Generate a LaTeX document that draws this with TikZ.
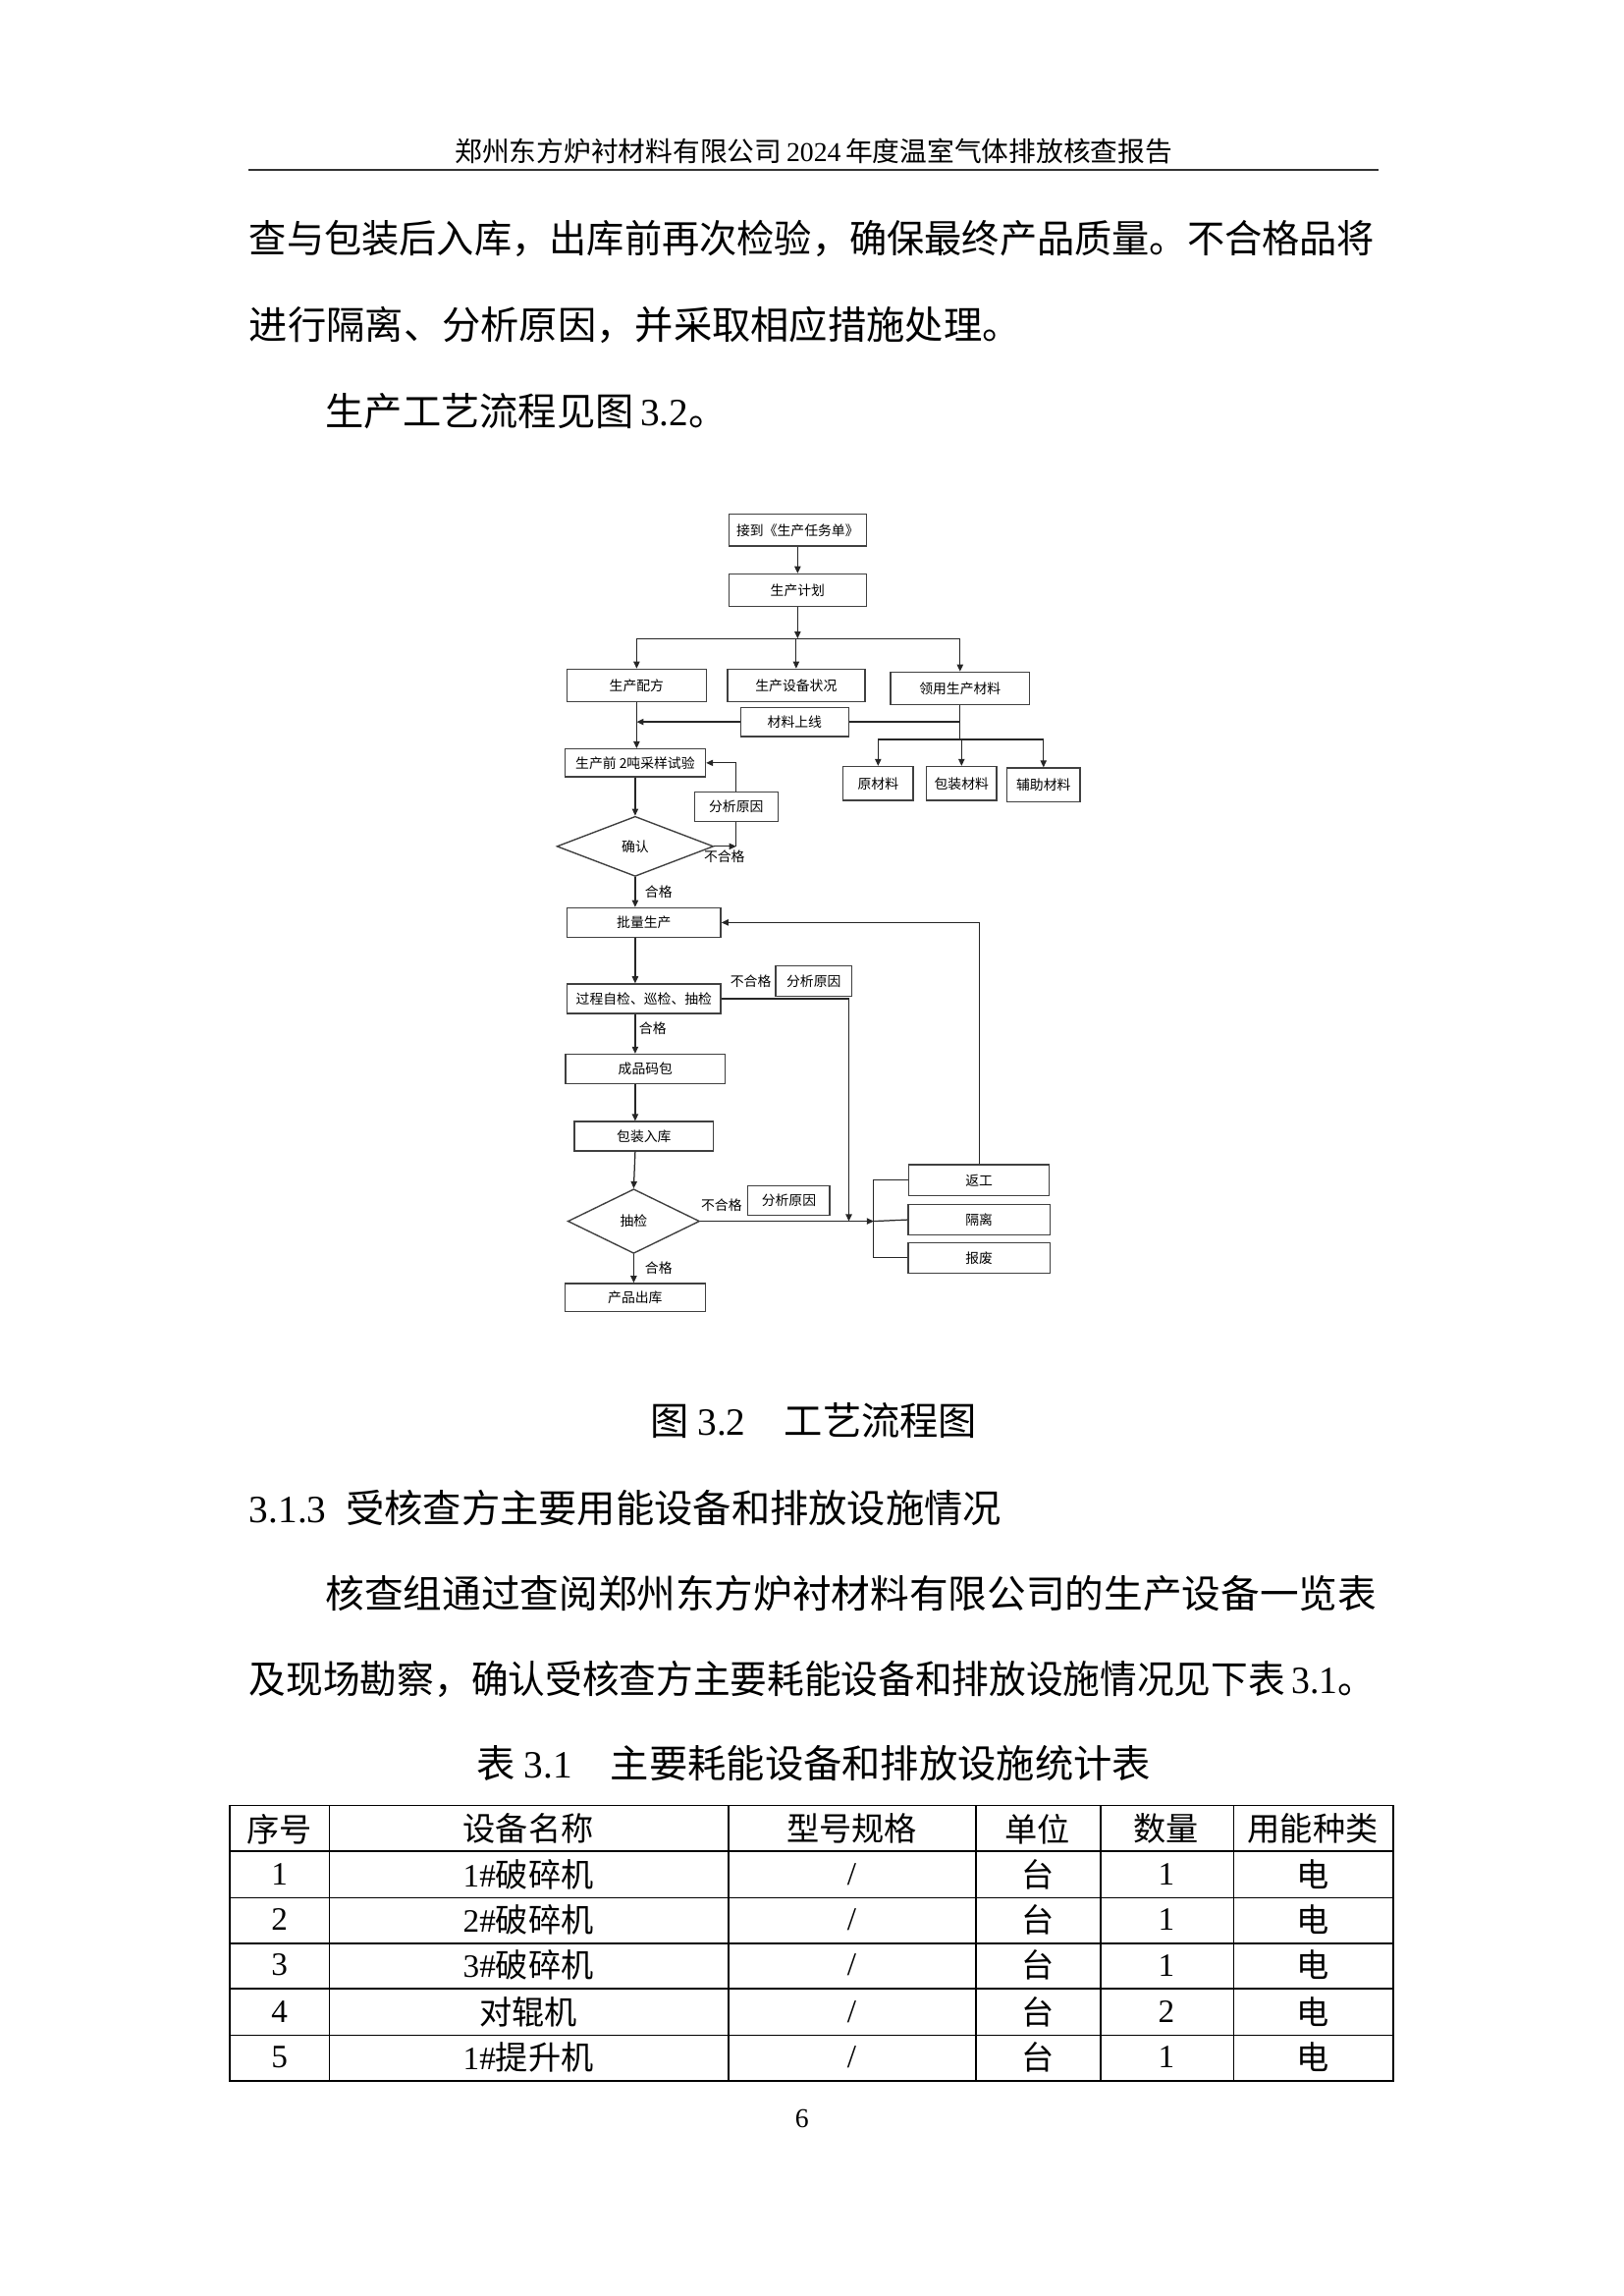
\documentclass[tikz,border=0pt]{standalone}
\usepackage{fontspec}
\usepackage{graphicx}
\setmainfont{Noto Sans CJK SC}
\newfontfamily\tnr{Liberation Serif}
\usetikzlibrary{arrows.meta,shapes.geometric,calc}
\newcommand\fcf{\fontsize{5pt}{6pt}\selectfont}
\newcommand\bodyf{\fontsize{14.2pt}{17pt}\selectfont}
\newcommand\tabf{\fontsize{12pt}{14pt}\selectfont}
\newcommand\headf{\fontsize{10pt}{12pt}\selectfont}
\begin{document}
\begin{tikzpicture}[x=0.18936mm,y=-0.18943mm,
  fbox/.style={draw=black!75, line width=0.5pt, inner sep=0pt, font=\fcf, fill=white, text=black},
  bx/.style 2 args={fbox, minimum width=#1*0.18936mm, minimum height=#2*0.18943mm},
  dia/.style 2 args={diamond, draw=black!75, line width=0.5pt, inner sep=0pt, font=\fcf, fill=white,
     minimum width=#1*0.18936mm, minimum height=#2*0.18943mm},
  arr/.style={-{Triangle[length=0.9mm,width=0.8mm]}, line width=0.45pt, draw=black!85},
  ln/.style={line width=0.45pt, draw=black!85},
  lbl/.style={inner sep=0pt, font=\fcf},
  tx/.style={inner sep=0pt, anchor=west, font=\bodyf},
  txc/.style={inner sep=0pt, font=\bodyf},
  tc/.style={inner sep=0pt, font=\tabf},
  tl/.style={line width=0.6pt, draw=black}
]
\useasboundingbox[fill=white] (0,0) rectangle (1109,1568);

% ---------- header ----------
\node[inner sep=0pt, font=\headf] (hd) at (556,103) {\resizebox{92.8mm}{\height}{郑州东方炉衬材料有限公司\,{\tnr 2024}\,年度温室气体排放核查报告}};
\coordinate (hl1) at (170,116);
\coordinate (hl2) at (942,116);
\draw[line width=0.7pt, draw=black!80] (hl1) -- (hl2);

% ---------- body text ----------
\node[tx] (p1) at (170,163) {\resizebox{145.6mm}{\height}{查与包装后入库，出库前再次检验，确保最终产品质量。不合格品将}};
\node[tx] (p2) at (170,222) {进行隔离、分析原因，并采取相应措施处理。};
\node[tx] (p3) at (222,281) {生产工艺流程见图\,{\tnr 3.2}。};

% ---------- flowchart ----------
\node[bx={94}{22}] (n1) at (545,362) {接到《生产任务单》};
\node[bx={94}{22}] (n2) at (545,403) {生产计划};
\node[bx={95}{22}] (n3) at (435,468) {生产配方};
\node[bx={94}{22}] (n4) at (544,468) {生产设备状况};
\node[bx={95}{22}] (n5) at (656,470) {领用生产材料};
\node[bx={74}{20}] (n6) at (543,493) {材料上线};
\node[bx={48}{23}] (n7) at (600,535) {原材料};
\node[bx={48}{23}] (n8) at (657,535) {包装材料};
\node[bx={50}{23}] (n9) at (713,536) {辅助材料};
\node[bx={96}{19}] (n10) at (434,521) {生产前 2吨采样试验};
\node[bx={57}{20}] (n11) at (503,551) {分析原因};
\node[dia={107}{41}] (d1) at (434,578) {确认};
\node[bx={105}{20}] (n12) at (440,630) {批量生产};
\node[bx={105}{20}] (n13) at (440,682) {过程自检、巡检、抽检};
\node[bx={52}{21}] (n14) at (556,670) {分析原因};
\node[bx={109}{20}] (n15) at (441,730) {成品码包};
\node[bx={95}{20}] (n16) at (440,776) {包装入库};
\node[dia={90}{44}] (d2) at (433,834) {抽检};
\node[bx={56}{20}] (n17) at (539,820) {分析原因};
\node[bx={96}{21}] (n18) at (669,806) {返工};
\node[bx={97}{21}] (n19) at (669,833) {隔离};
\node[bx={97}{21}] (n20) at (669,859) {报废};
\node[bx={96}{19}] (n21) at (434,886) {产品出库};

\coordinate (b1) at (545,436);
\coordinate (b2) at (656,505);
\coordinate (k1) at (580,682);
\coordinate (j) at (597,834);

\draw[arr] (n1.south) -- (n2.north);
\draw[arr] (n2.south) -- (b1);
\draw[ln] (n3.north |- b1) -- (n5.north |- b1);
\draw[arr] (n3.north |- b1) -- (n3.north);
\draw[arr] (n4.north |- b1) -- (n4.north);
\draw[arr] (n5.north |- b1) -- (n5.north);

\draw[ln] (n5.south) -- (b2);
\draw[ln] (n5.south |- n6.east) -- (n6.east);
\draw[arr] (n6.west) -- (n3.south |- n6.west);
\draw[ln] (n7.north |- b2) -- (n9.north |- b2);
\draw[arr] (n7.north |- b2) -- (n7.north);
\draw[arr] (n8.north |- b2) -- (n8.north);
\draw[arr] (n9.north |- b2) -- (n9.north);

\draw[arr] (n3.south) -- (n3.south |- n10.north);
\draw[arr] (n10.south) -- (d1.north);
\draw[arr] (d1.east) -- (n11.south |- d1.east);
\draw[ln] (n11.south |- d1.east) -- (n11.south);
\draw[arr] (n11.north) |- (n10.east);

\draw[arr] (d1.south) -- (d1.south |- n12.north);
\draw[arr] (d1.south |- n12.south) -- (d1.south |- n13.north);
\draw[arr] (d1.south |- n13.south) -- (d1.south |- n15.north);
\draw[arr] (d1.south |- n15.south) -- (d1.south |- n16.north);
\draw[arr] (d1.south |- n16.south) -- (d2.north);
\draw[arr] (d2.south) -- (d2.south |- n21.north);

\draw[arr] (n13.east) -| (k1 |- d2.east);
\draw[arr] (d2.east) -- (j);
\draw[ln] (j) -- (n19.west);
\draw[ln] (n18.west) -| (j);
\draw[ln] (n20.west) -| (j);
\draw[arr] (n18.north) |- (n12.east);

\node[lbl] (l1) at (495,585) {不合格};
\node[lbl] (l2) at (450,609) {合格};
\node[lbl] (l3) at (513,670) {不合格};
\node[lbl] (l4) at (446,702) {合格};
\node[lbl] (l5) at (493,823) {不合格};
\node[lbl] (l6) at (450,866) {合格};

% ---------- caption & text ----------
\node[txc] (cap) at (556,970) {图 {\tnr 3.2}　工艺流程图};
\node[tx] (h3) at (170,1030) {{\tnr 3.1.3}\hspace{0.5em}受核查方主要用能设备和排放设施情况};
\node[tx] (p4) at (222,1088) {\resizebox{136mm}{\height}{核查组通过查阅郑州东方炉衬材料有限公司的生产设备一览表}};
\node[tx] (p5) at (170,1147) {\resizebox{145.6mm}{\height}{及现场勘察，确认受核查方主要耗能设备和排放设施情况见下表\,{\tnr 3.1}。}};
\node[txc] (tcap) at (556,1204) {表 {\tnr 3.1}　主要耗能设备和排放设施统计表};

% ---------- table ----------
\draw[tl] (157,1233) rectangle (952,1421);
\foreach \yy in {1264,1296,1327,1358,1390} \draw[tl] (157,\yy) -- (952,\yy);
\foreach \xx in {225,498,667,752,843} \draw[tl] (\xx,1233) -- (\xx,1421);

\node[tc] (t00) at (191,1249) {序号};
\node[tc] (t01) at (361,1249) {设备名称};
\node[tc] (t02) at (582,1249) {型号规格};
\node[tc] (t03) at (709,1249) {单位};
\node[tc] (t04) at (797,1249) {数量};
\node[tc] (t05) at (897,1249) {用能种类};

\foreach \r/\yy/\nm/\q in {1/1280/{{\tnr 1\#}破碎机}/1, 2/1311/{{\tnr 2\#}破碎机}/1, 3/1342/{{\tnr 3\#}破碎机}/1, 4/1374/{对辊机}/2, 5/1405/{{\tnr 1\#}提升机}/1}{
  \node[tc] at (191,\yy) {\tnr \r};
  \node[tc] at (361,\yy) {\nm};
  \node[tc] at (582,\yy) {\tnr /};
  \node[tc] at (709,\yy) {台};
  \node[tc] at (797,\yy) {\tnr \q};
  \node[tc] at (897,\yy) {电};
}

\node[inner sep=0pt, font=\headf\tnr] (pg) at (548,1447) {6};
\end{tikzpicture}
\end{document}
